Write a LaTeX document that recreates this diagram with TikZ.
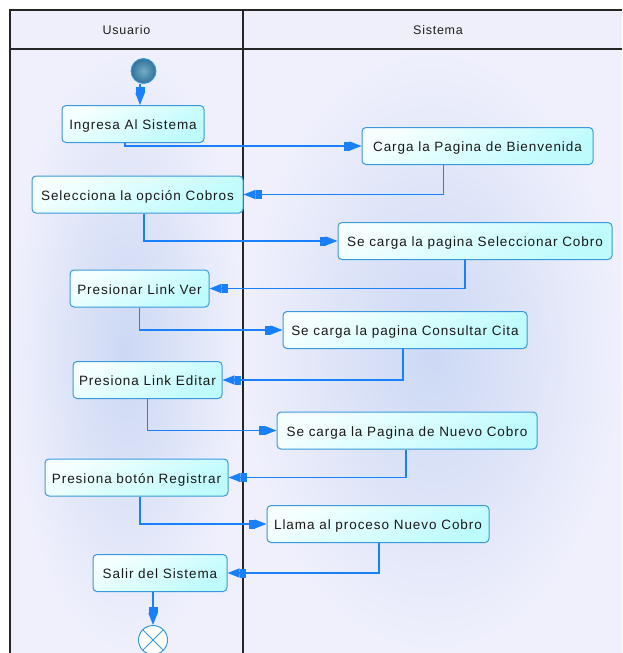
\documentclass[tikz,border=0pt]{standalone}
\usepackage{fontspec}
\setmainfont{Liberation Sans}
\newfontfamily\adfont[LetterSpace=7]{Liberation Sans}
\newfontfamily\headfont[LetterSpace=6]{Liberation Sans}
\usetikzlibrary{positioning, arrows.meta, calc}
\definecolor{adLine}{HTML}{262626}
\definecolor{adBorder}{HTML}{3A9AD9}
\definecolor{adArrow}{HTML}{1A80FA}
\definecolor{adFillTop}{HTML}{F6FFFF}
\definecolor{adFillBot}{HTML}{BDFBFD}
\definecolor{adLane}{HTML}{EFF0FC}
\definecolor{adLaneMid}{HTML}{CCD8F4}
\definecolor{adHead}{HTML}{EFEFFB}
\definecolor{adStart}{HTML}{3A87B3}
\tikzset{
  ad/.style={font=\fontsize{13.5}{16}\adfont, line width=1.2pt},
  frame/.style={draw=adLine, line width=1.3pt},
  lane/.style={inner color=adLaneMid, outer color=adLane},
  head/.style={text=black!88, font=\fontsize{12.5}{15}\headfont},
  act/.style={draw=adBorder, line width=1pt, rounded corners=4pt, minimum height=37pt, inner xsep=5pt,
    text height=11pt, text depth=0pt,
    top color=adFillTop, bottom color=adFillBot, shading angle=30, text=black!90},
  startdot/.style={circle, draw=adBorder, line width=0.8pt, inner color=adStart!70!white, outer color=adStart!85!black,
    minimum size=25pt, inner sep=0pt},
  enddot/.style={circle, draw=adBorder, line width=1pt, fill=white, minimum size=29pt, inner sep=0pt,
    path picture={\draw[adBorder, line width=1pt] (path picture bounding box.north west) -- (path picture bounding box.south east)
      (path picture bounding box.north east) -- (path picture bounding box.south west);}},
  arr/.style={draw=adArrow, line width=1.4pt, -{Rectangle[length=6pt,width=9pt]Triangle[length=12pt,width=9pt]}},
}

\begin{document}
\begin{tikzpicture}[
  ad, x=1pt, y=-1pt,
]
\useasboundingbox (0,0) rectangle (622,653);
% swimlanes
\fill[adHead] (10,10) rectangle (622,49);
\shade[lane] (10,49) rectangle (243,653);
\shade[lane] (243,49) rectangle (622,653);
\draw[frame] (10,653) -- (10,10) -- (622,10);
\draw[frame] (10,49) -- (622,49);
\draw[frame] (243,10) -- (243,653);
\node[head] (usuario) at (126.5,30) {Usuario};
\node[head] (sistema) at (438,30) {Sistema};

% actividades
\node[startdot] (inicio) at (143.5,71) {};
\node[act, minimum width=142] (ingresa) at (133,124) {Ingresa Al Sistema};
\node[act, minimum width=231] (carga) at (477.5,146) {Carga la Pagina de Bienvenida};
\node[act, minimum width=211] (selecciona) at (137.5,194.5) {Selecciona la opción Cobros};
\node[act, minimum width=274] (selcobro) at (475,241) {Se carga la pagina Seleccionar Cobro};
\node[act, minimum width=139] (linkver) at (139.5,288.5) {Presionar Link Ver};
\node[act, minimum width=244] (consultar) at (405,330) {Se carga la pagina Consultar Cita};
\node[act, minimum width=149] (editar) at (147.5,380) {Presiona Link Editar};
\node[act, minimum width=260] (nuevocobro) at (407,430.5) {Se carga la Pagina de Nuevo Cobro};
\node[act, minimum width=183] (registrar) at (136.5,477.5) {Presiona botón Registrar};
\node[act, minimum width=222] (llama) at (378,524) {Llama al proceso Nuevo Cobro};
\node[act, minimum width=134] (salir) at (160,573) {Salir del Sistema};
\node[enddot] (fin) at (153,640) {};

% flujo
\draw[arr] (inicio.south -| 140,0) -- (140,0 |- ingresa.north);
\draw[arr] ([xshift=-8pt]ingresa.south) |- (carga);
\draw[arr] ([xshift=-34pt]carga.south) |- (selecciona);
\draw[arr] ([xshift=6.5pt]selecciona.south) |- (selcobro);
\draw[arr] ([xshift=-10pt]selcobro.south) |- (linkver);
\draw[arr] (linkver.south) |- (consultar);
\draw[arr] ([xshift=-2pt]consultar.south) |- (editar);
\draw[arr] (editar.south) |- (nuevocobro);
\draw[arr] ([xshift=-1pt]nuevocobro.south) |- (registrar);
\draw[arr] ([xshift=3.5pt]registrar.south) |- (llama);
\draw[arr] ([xshift=1pt]llama.south) |- (salir);
\draw[arr] (fin.north |- salir.south) -- (fin.north);
\end{tikzpicture}
\end{document}
